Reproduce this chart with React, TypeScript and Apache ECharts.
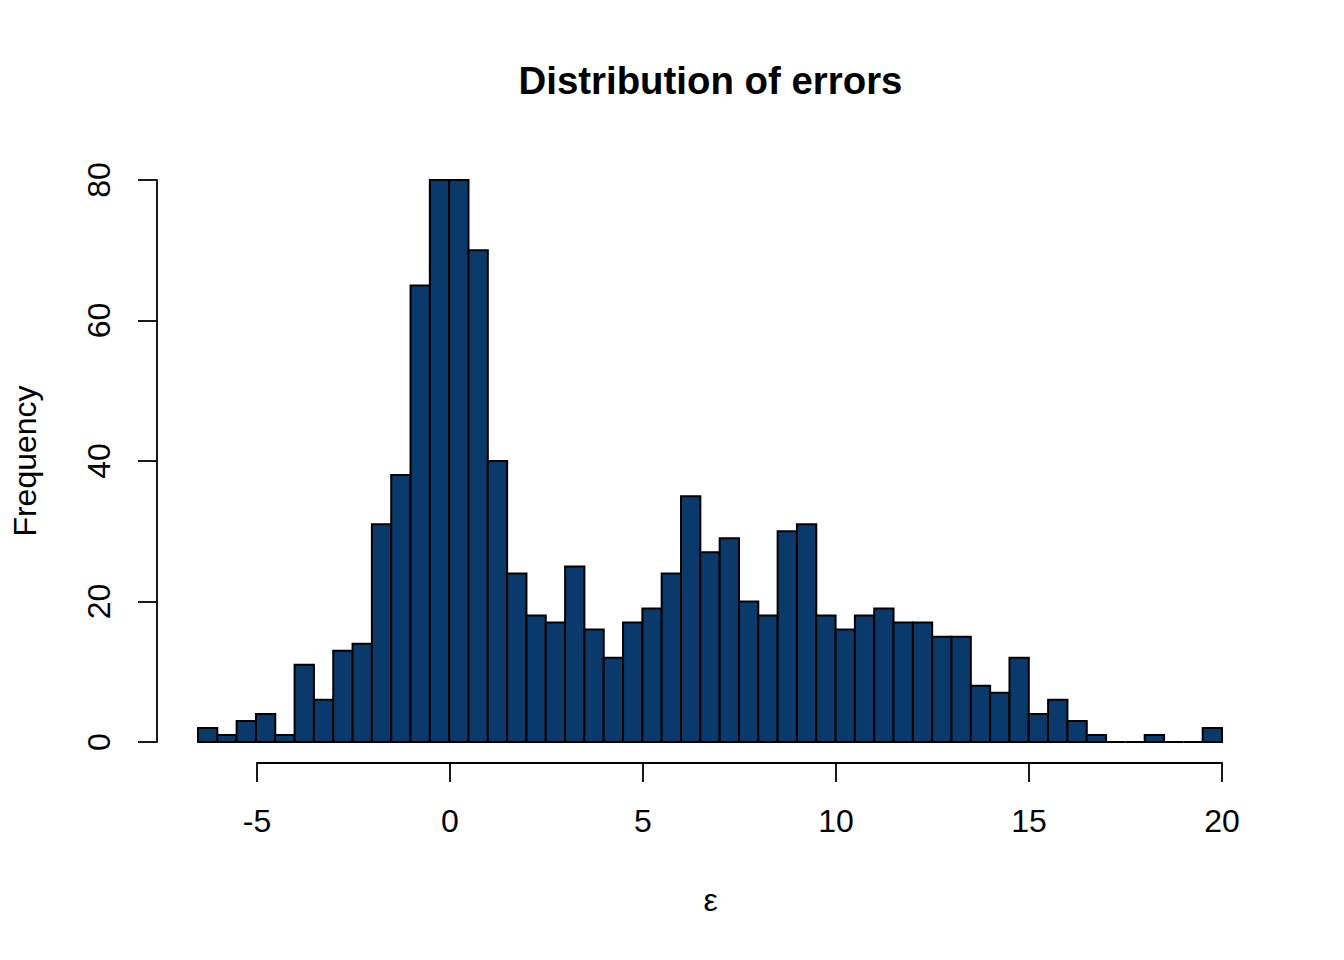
import React, { useEffect, useRef } from "react";
import * as echarts from "echarts";

// Histogram bin edges (width 0.5) and counts
const binEdges: number[] = [
  -6.5, -6, -5.5, -5, -4.5, -4, -3.5, -3, -2.5, -2, -1.5, -1, -0.5, 0, 0.5, 1, 1.5, 2,
  2.5, 3, 3.5, 4, 4.5, 5, 5.5, 6, 6.5, 7, 7.5, 8, 8.5, 9, 9.5, 10, 10.5, 11, 11.5, 12,
  12.5, 13, 13.5, 14, 14.5, 15, 15.5, 16, 16.5, 17, 17.5, 18, 18.5, 19, 19.5, 20,
];
const counts: number[] = [
  2, 1, 3, 4, 1, 11, 6, 13, 14, 31, 38, 65, 80, 80, 70, 40, 24, 18, 17, 25, 16, 12,
  17, 19, 24, 35, 27, 29, 20, 18, 30, 31, 18, 16, 18, 19, 17, 17, 15, 15, 8, 7, 12,
  4, 6, 3, 1, 0, 0, 1, 0, 0, 2,
];
const xTicks: number[] = [-5, 0, 5, 10, 15, 20];
const yTicks: number[] = [0, 20, 40, 60, 80];

const TITLE = "Distribution of errors";
const XLAB = "ε";
const YLAB = "Frequency";

const FONT = "'Liberation Sans', Arial, Helvetica, sans-serif";
const BAR_FILL = "#0a3a6b";

export default function App() {
  const ref = useRef<HTMLDivElement>(null);

  useEffect(() => {
    if (!ref.current) return;
    const chart = echarts.init(ref.current, null, { renderer: "svg" });
    const data = counts.map((c, i) => [binEdges[i], binEdges[i + 1], c]);

    const axisStyle = { color: "#000", width: 1.8 };
    chart.setOption({
      animation: false,
      backgroundColor: "#fff",
      grid: [
        { left: 198, width: 1024, top: 180, height: 562 },
        { left: 257, width: 965, top: 180, height: 583 },
      ],
      xAxis: [
        {
          gridIndex: 0,
          type: "value",
          min: binEdges[0],
          max: binEdges[binEdges.length - 1],
          show: false,
        },
        {
          gridIndex: 1,
          type: "value",
          min: xTicks[0],
          max: xTicks[xTicks.length - 1],
          interval: 5,
          position: "bottom",
          axisLine: { show: true, onZero: false, lineStyle: axisStyle },
          axisTick: { show: true, length: 19, lineStyle: axisStyle },
          axisLabel: {
            show: true,
            fontSize: 32,
            fontFamily: FONT,
            color: "#000",
            margin: 42,
            showMinLabel: true,
            showMaxLabel: true,
          },
          splitLine: { show: false },
        },
      ],
      yAxis: [
        {
          gridIndex: 0,
          type: "value",
          min: yTicks[0],
          max: yTicks[yTicks.length - 1],
          interval: 20,
          position: "left",
          offset: 41,
          axisLine: { show: true, onZero: false, lineStyle: axisStyle },
          axisTick: { show: true, length: 19, lineStyle: axisStyle },
          axisLabel: {
            show: true,
            rotate: 90,
            fontSize: 32,
            fontFamily: FONT,
            color: "#000",
            margin: 42,
            showMinLabel: true,
            showMaxLabel: true,
          },
          splitLine: { show: false },
          name: YLAB,
          nameLocation: "middle",
          nameRotate: 90,
          nameGap: 116,
          nameTextStyle: { fontSize: 32, fontFamily: FONT, color: "#000" },
        },
        { gridIndex: 1, type: "value", min: 0, max: 1, show: false },
      ],
      series: [
        {
          type: "custom",
          xAxisIndex: 0,
          yAxisIndex: 0,
          data,
          clip: false,
          renderItem: (params: any, api: any) => {
            const x0 = api.value(0);
            const x1 = api.value(1);
            const y = api.value(2);
            const pTop = api.coord([x0, y]);
            const pBot = api.coord([x1, 0]);
            return {
              type: "polygon",
              shape: {
                points: [
                  [pTop[0], pTop[1]],
                  [pBot[0], pTop[1]],
                  [pBot[0], pBot[1]],
                  [pTop[0], pBot[1]],
                ],
              },
              style: { fill: BAR_FILL, stroke: "#000", lineWidth: 2 },
            };
          },
        },
      ],
      graphic: [
        {
          type: "text",
          x: 710.5,
          y: 80,
          style: {
            text: TITLE,
            fontSize: 38.4,
            fontWeight: "bold",
            fontFamily: FONT,
            fill: "#000",
            align: "center",
            verticalAlign: "middle",
          },
        },
        {
          type: "text",
          x: 710.5,
          y: 900,
          style: {
            text: XLAB,
            fontSize: 32,
            fontFamily: FONT,
            fill: "#000",
            align: "center",
            verticalAlign: "middle",
          },
        },
      ],
    });
    return () => chart.dispose();
  }, []);

  return (
    <div
      ref={ref}
      style={{ position: "fixed", left: 0, top: 0, width: 1344, height: 960, background: "#fff" }}
    />
  );
}
